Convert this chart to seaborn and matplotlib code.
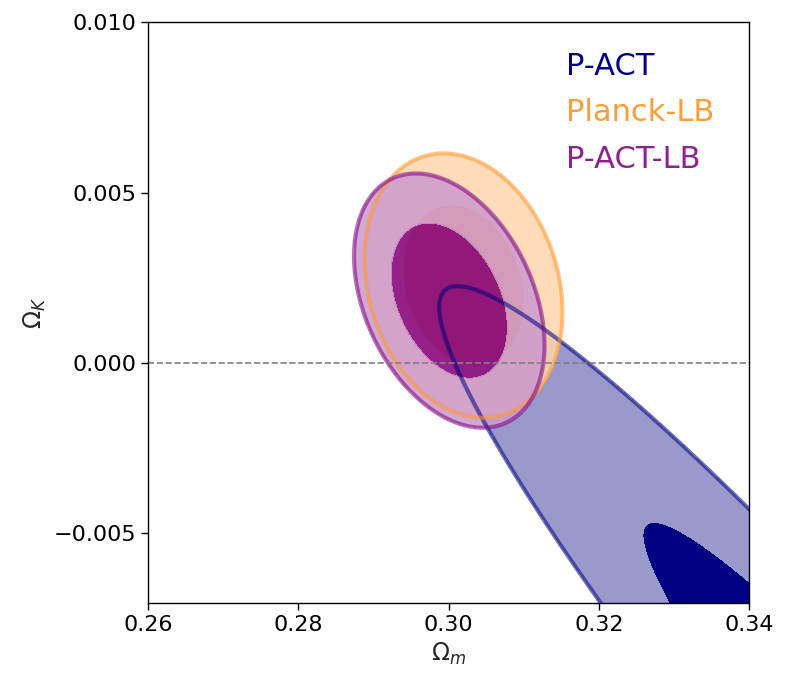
import numpy as np
import matplotlib
matplotlib.use("Agg")
import matplotlib.pyplot as plt
from matplotlib.colors import to_rgb
import seaborn as sns

# Gaussian summaries of the three chains
labels = ["P-ACT", "Planck-LB", "P-ACT-LB"]
colors = ["#000080", "#ff9933", "#800080"]
text_colors = ["#000080", "#ff9d3a", "#8c2290"]
omega_m_mean = [0.3683, 0.3020, 0.3001]
omega_k_mean = [-0.01552, 0.00227, 0.00183]
omega_m_std = [0.02797, 0.0053, 0.0051]
omega_k_std = [0.00715, 0.00156, 0.00150]
corr = [-0.965, -0.20, -0.35]

# delta chi^2 for 68% and 95% regions with 2 parameters
chi2_levels = [2.30, 6.18]

xticks = [0.26, 0.28, 0.30, 0.32, 0.34]
yticks = [-0.005, 0.0, 0.005, 0.010]

sns.set_theme(style="ticks")
plt.rcParams["font.family"] = ["DejaVu Sans"]
plt.rcParams["axes.edgecolor"] = "black"
plt.rcParams["xtick.color"] = "black"
plt.rcParams["ytick.color"] = "black"


def chi2_grid(X, Y, mx, my, sx, sy, rho):
    dx = (X - mx) / sx
    dy = (Y - my) / sy
    return (dx**2 - 2 * rho * dx * dy + dy**2) / (1 - rho**2)


def lighten(c, f=0.4):
    r = np.array(to_rgb(c))
    return tuple(f * r + (1 - f))


fig = plt.figure(figsize=(7.89, 6.91), dpi=100)
ax = fig.add_axes([0.1876, 0.1273, 0.7617, 0.8408])

xg = np.linspace(0.25, 0.35, 500)
yg = np.linspace(-0.009, 0.011, 500)
X, Y = np.meshgrid(xg, yg)

grids = []
for i in range(len(labels)):
    c2 = chi2_grid(X, Y, omega_m_mean[i], omega_k_mean[i],
                   omega_m_std[i], omega_k_std[i], corr[i])
    grids.append(c2)
    alpha = 1.0 if i == 0 else 0.85
    ax.contourf(X, Y, c2, levels=[0] + chi2_levels,
                colors=[colors[i], lighten(colors[i])], alpha=alpha)

# outer contour edges go on top of all fills
for i in range(len(labels)):
    ax.contour(X, Y, grids[i], levels=[chi2_levels[1]], colors=[colors[i]],
               linewidths=3.0, alpha=0.55)

ax.axhline(0, color="gray", ls="--", lw=1.2)

for i, lab in enumerate(labels):
    ax.text(0.6955, [0.9088, 0.8296, 0.7487][i], lab, color=text_colors[i],
            fontsize=22, transform=ax.transAxes, va="baseline", ha="left")

ax.set_xlim(0.26, 0.34)
ax.set_ylim(-0.00704, 0.010)
ax.set_xticks(xticks)
ax.set_yticks(yticks)
ax.tick_params(labelsize=16, length=5, width=1)
ax.set_xlabel(r"$\Omega_m$", fontsize=17)
ax.set_ylabel(r"$\Omega_K$", fontsize=17)
for s in ax.spines.values():
    s.set_linewidth(1.0)

fig.savefig("out.png", dpi=100)
